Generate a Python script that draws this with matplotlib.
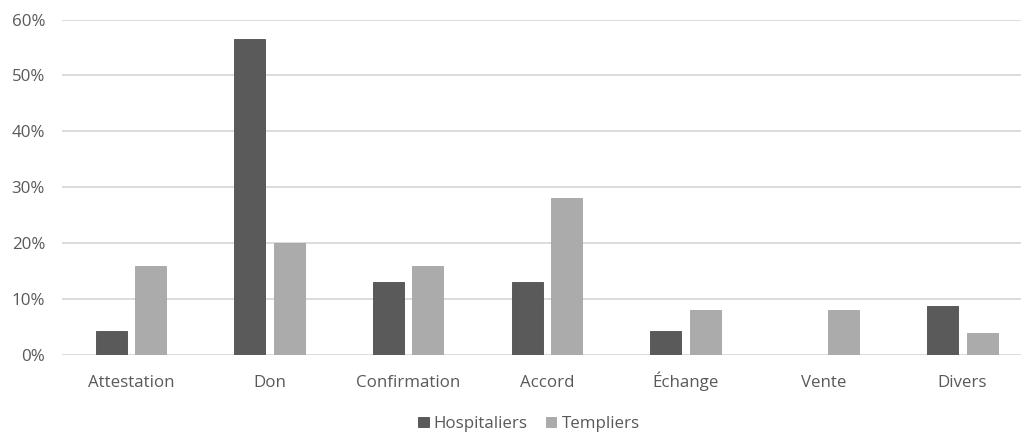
import matplotlib
matplotlib.use("Agg")
import matplotlib.pyplot as plt
import numpy as np
from matplotlib.ticker import FuncFormatter

categories = ["Attestation", "Don", "Confirmation", "Accord", "Échange", "Vente", "Divers"]
hospitaliers = [4.3, 56.5, 13.0, 13.0, 4.3, 0.0, 8.7]
templiers = [16, 20, 16, 28, 8, 8, 4]
yticks = [0, 10, 20, 30, 40, 50, 60]

plt.rcParams['font.family'] = ['Open Sans', 'DejaVu Sans']
text_color = "#595959"
fs = 12.2

fig = plt.figure(figsize=(10.21, 4.34), dpi=100)
left_px, slot_px = 61.7, 138.6
ax = fig.add_axes([left_px/1021, (434-355)/434, 7*slot_px/1021, (355-19.5)/434])

x = np.arange(len(categories))
w = 0.224
off = 0.1425
ax.bar(x - off, hospitaliers, w, color="#5a5a5a", edgecolor="#4d4d4d", linewidth=0.6, label="Hospitaliers", zorder=3)
ax.bar(x + off, templiers, w, color="#ababab", edgecolor="#a3a3a3", linewidth=0.6, label="Templiers", zorder=3)

ax.set_xlim(-0.5, len(categories) - 0.5)
ax.set_ylim(0, 60)
ax.set_yticks(yticks)
ax.yaxis.set_major_formatter(FuncFormatter(lambda v, p: f"{int(v)}%"))
ax.set_xticks(x)
ax.set_xticklabels(categories, va="baseline")
ax.grid(axis="y", color="#d9d9d9", linewidth=1.3, zorder=0)
for s in ax.spines.values():
    s.set_visible(False)
ax.tick_params(axis="both", length=0, labelsize=fs, labelcolor=text_color)
ax.tick_params(axis="x", pad=23)
ax.tick_params(axis="y", pad=12)

leg = fig.legend(loc="center", bbox_to_anchor=(529/1021, 1 - 424/434), ncol=2, frameon=False,
                 fontsize=fs, handlelength=0.6, handleheight=0.6, handletextpad=0.3, columnspacing=1.1)
for t in leg.get_texts():
    t.set_color(text_color)

fig.savefig("out.png", dpi=100)
